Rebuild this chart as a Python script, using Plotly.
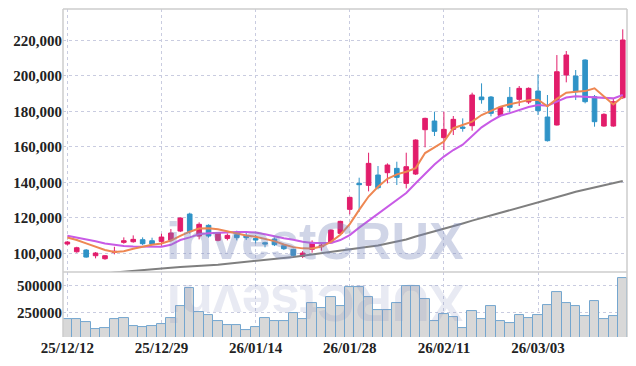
import plotly.graph_objects as go

dates = ["25/12/12", "25/12/15", "25/12/16", "25/12/17", "25/12/18", "25/12/19", "25/12/22", "25/12/23",
         "25/12/24", "25/12/26", "25/12/29", "25/12/30", "26/01/02", "26/01/05", "26/01/06", "26/01/07",
         "26/01/08", "26/01/09", "26/01/12", "26/01/13", "26/01/14", "26/01/15", "26/01/16", "26/01/19",
         "26/01/20", "26/01/21", "26/01/22", "26/01/23", "26/01/26", "26/01/27", "26/01/28", "26/01/29",
         "26/01/30", "26/02/02", "26/02/03", "26/02/04", "26/02/05", "26/02/06", "26/02/09", "26/02/10",
         "26/02/11", "26/02/12", "26/02/13", "26/02/19", "26/02/20", "26/02/23", "26/02/24", "26/02/25",
         "26/02/26", "26/02/27", "26/03/03", "26/03/04", "26/03/05", "26/03/06", "26/03/09", "26/03/10",
         "26/03/11", "26/03/12", "26/03/13", "26/03/16"]

open_ = [105240, 100900, 101860, 98670, 96980, 100550, 106180, 106550, 107680, 107100,
         106740, 107490, 112560, 122140, 109750, 115780, 107310, 108430, 110500, 110120,
         108430, 105990, 108060, 104300, 102240, 98290, 102240, 103740, 105990, 111250,
         124770, 139420, 138290, 144120, 145430, 147870, 139420, 144680, 169650, 174540,
         165150, 169840, 171160, 171910, 188060, 188060, 177730, 187870, 186750, 185240,
         191440, 176790, 172300, 200460, 199890, 208910, 188250, 171720, 171720, 187680]
high = [106900, 103700, 102420, 100730, 99040, 103700, 109000, 110120, 109000, 108810,
        111060, 113690, 120280, 122890, 117470, 116340, 112000, 111250, 112750, 111830,
        110310, 106550, 109000, 105050, 102610, 101300, 107310, 105990, 113500, 118380,
        131900, 142610, 156680, 149190, 150690, 151620, 156700, 164210, 176410, 179800,
        179800, 177360, 176040, 190500, 195760, 188620, 182800, 193690, 194260, 193500,
        200830, 189190, 211700, 213980, 203270, 209280, 189190, 178880, 187310, 226180]
low = [104500, 100340, 97540, 97180, 96410, 99420, 105430, 105990, 104680, 104680,
       104300, 106740, 112000, 111060, 107870, 108810, 106740, 107310, 107310, 107490,
       105630, 103380, 104110, 101860, 98100, 97350, 100360, 101480, 105800, 110870,
       121960, 123450, 134910, 136040, 139420, 138480, 136600, 144120, 159720, 166090,
       158200, 166650, 168530, 169090, 184300, 177170, 177170, 179420, 182990, 184120,
       177920, 163000, 172000, 196330, 186370, 184490, 171340, 171340, 171340, 187000]
close = [106370, 103160, 97900, 100170, 98670, 101110, 107100, 107870, 105430, 105240,
         109180, 111440, 119890, 112190, 116340, 109750, 111440, 110120, 108810, 108810,
         107490, 105240, 104860, 102610, 98860, 100170, 106180, 104680, 113130, 118010,
         131530, 138670, 150690, 136980, 149750, 142800, 148810, 163830, 176040, 168720,
         169840, 175480, 170410, 189190, 186560, 178860, 182240, 182240, 192940, 192940,
         180360, 163460, 202300, 211720, 191060, 185430, 174160, 178310, 185430, 220170]

ma_short = [108900, 107500, 105600, 103700, 101900, 100800, 101200, 102600, 103900, 104800,
            105600, 107200, 109800, 112200, 114000, 114200, 113600, 112400, 111200, 110000,
            109300, 108200, 106900, 105000, 103500, 102800, 102700, 103800, 106500, 110500,
            116500, 124500, 132000, 137500, 142000, 144500, 146000, 148000, 156500, 159700,
            163000, 170500, 172300, 174200, 177900, 180400, 182600, 184000, 185200, 186300,
            186500, 182800, 187000, 190500, 191000, 191400, 193000, 188400, 183900, 188200]
ma_mid = [109900, 109000, 107900, 106800, 105600, 104700, 104200, 103900, 103700, 103600,
          103700, 104800, 107500, 109000, 110800, 111300, 111600, 111900, 112000, 112000,
          111700, 110800, 109600, 108500, 107700, 106500, 105800, 105600, 105800, 107500,
          110300, 114500, 118500, 122500, 126000, 130000, 134000, 139500, 145000, 150000,
          154500, 158200, 161200, 166000, 171000, 174500, 177500, 179000, 180800, 182400,
          183500, 183200, 185500, 187800, 188500, 188200, 187900, 187800, 187300, 189200]
ma_long = [87210, 87490, 87770, 88060, 88620, 89180, 89690, 90200, 90700, 91270,
           91610, 91940, 92280, 92560, 92840, 93130, 93630, 94200, 94700, 95150,
           95660, 96230, 96790, 97350, 97910, 98650, 99440, 100170, 100900, 101630,
           102420, 103100, 103770, 104390, 105520, 106480, 107770, 109470, 110870, 112560,
           113970, 115380, 116850, 118420, 119890, 121300, 122710, 124000, 125520, 126930,
           128510, 130030, 131550, 133130, 134710, 135940, 137070, 138200, 139330, 140730]

volume = [193000, 193000, 166000, 103000, 112000, 193000, 202000, 130000, 121000, 130000,
          148000, 202000, 310000, 473000, 256000, 229000, 175000, 139000, 139000, 94000,
          121000, 202000, 175000, 175000, 247000, 193000, 337000, 292000, 392000, 310000,
          482000, 482000, 392000, 274000, 274000, 337000, 491000, 491000, 374000, 175000,
          238000, 211000, 112000, 265000, 193000, 310000, 175000, 157000, 229000, 202000,
          229000, 319000, 437000, 337000, 310000, 220000, 356000, 193000, 220000, 563000]

price_ticks = [100000, 120000, 140000, 160000, 180000, 200000, 220000]
volume_ticks = [250000, 500000]
date_ticks = dates[0::10]

UP = "#e21d6b"
DOWN = "#2f93c7"
GRID = "#c9cce0"
FONT = "Liberation Sans Narrow"
TICKFONT = dict(family=FONT, size=15, color="#222222", weight="bold")

fig = go.Figure()

fig.add_trace(go.Bar(
    x=dates, y=volume, yaxis="y2",
    marker=dict(color="#d8d8d8", line=dict(color="#74a6cf", width=1)),
    showlegend=False,
))

fig.add_trace(go.Candlestick(
    x=dates, open=open_, high=high, low=low, close=close,
    increasing=dict(fillcolor=UP, line=dict(color=UP, width=1)),
    decreasing=dict(fillcolor=DOWN, line=dict(color=DOWN, width=1)),
    whiskerwidth=0, showlegend=False, yaxis="y",
))

fig.add_trace(go.Scatter(x=dates, y=ma_long, mode="lines", line=dict(color="#7f7f7f", width=2),
                         showlegend=False, yaxis="y"))
fig.add_trace(go.Scatter(x=dates, y=ma_mid, mode="lines", line=dict(color="#c85be6", width=2),
                         showlegend=False, yaxis="y"))
fig.add_trace(go.Scatter(x=dates, y=ma_short, mode="lines", line=dict(color="#ee8752", width=2),
                         showlegend=False, yaxis="y"))

fig.update_layout(
    width=636, height=366,
    margin=dict(l=63, r=9, t=9, b=29, autoexpand=False),
    paper_bgcolor="white", plot_bgcolor="white",
    font=dict(family=FONT, size=14, color="#222222"),
    bargap=0,
    xaxis=dict(
        type="category", anchor="y2", range=[-0.46, 59.45], automargin=False,
        tickvals=date_ticks, ticktext=date_ticks,
        showgrid=True, gridcolor=GRID, griddash="dot", gridwidth=1,
        rangeslider=dict(visible=False), ticks="", showline=False, zeroline=False,
        tickfont=TICKFONT,
    ),
    yaxis=dict(
        domain=[0.198, 1], range=[89460, 237640], automargin=False,
        tickvals=price_ticks, tickformat=",d", tickfont=TICKFONT,
        showgrid=True, gridcolor=GRID, griddash="dot", gridwidth=1,
        zeroline=False, showline=False, ticks="",
    ),
    yaxis2=dict(
        domain=[0, 0.198], range=[33000, 620000], automargin=False,
        tickvals=volume_ticks, tickformat="d", tickfont=TICKFONT,
        showgrid=True, gridcolor=GRID, griddash="dot", gridwidth=1,
        zeroline=False, showline=False, ticks="",
    ),
)

# frame lines and panel separator
for x0, y0, x1, y1 in [(0, 0, 0, 1), (0, 1, 1, 1), (1, 0, 1, 1), (0, 0.198, 1, 0.198)]:
    fig.add_shape(type="line", xref="paper", yref="paper", x0=x0, y0=y0, x1=x1, y1=y1,
                  line=dict(color="#cccccc", width=1.5), layer="above")

# watermark and its reflection
fig.add_annotation(text="<b>investCRUX</b>", xref="paper", yref="paper", x=0.447, y=0.198,
                   yanchor="bottom", showarrow=False,
                   font=dict(family="Liberation Sans", size=52, color="rgba(120,135,185,0.35)"))
fig.add_annotation(text="<b>XURCtsevni</b>", xref="paper", yref="paper", x=0.447, y=0.2,
                   yanchor="top", textangle=180, showarrow=False,
                   font=dict(family="Liberation Sans", size=52, color="rgba(130,140,190,0.18)"))

fig.write_html("out.html", config={"displayModeBar": False},
               post_script="document.body.style.margin='0';")
